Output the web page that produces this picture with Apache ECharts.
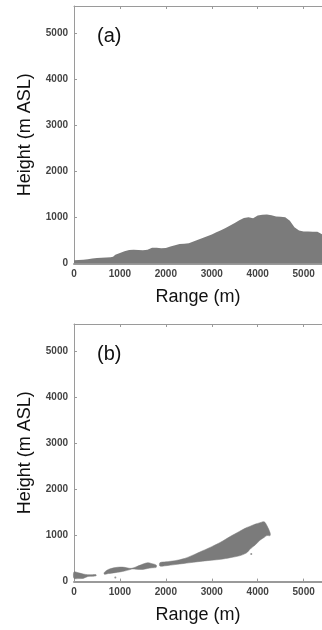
<!DOCTYPE html>
<html>
<head>
<meta charset="utf-8">
<script src="https://cdn.jsdelivr.net/npm/echarts@6/dist/echarts.min.js"></script>
<style>
html,body{margin:0;padding:0;background:#fff;}
#c{width:322px;height:630px;}
</style>
</head>
<body>
<div id="c"></div>
<script>
// Panel (a): terrain profile
const rangeA = [0,100,200,300,400,500,600,700,800,850,900,1000,1100,1200,1300,1400,1500,1600,1700,1800,1900,2000,2100,2200,2300,2400,2500,2600,2700,2800,2900,3000,3100,3200,3300,3400,3500,3600,3700,3800,3900,4000,4100,4200,4300,4400,4500,4600,4700,4800,4900,5000,5100,5200,5300,5400];
const heightA = [75,78,85,95,110,120,128,132,140,150,190,230,270,295,300,298,290,300,345,345,335,340,370,400,425,430,445,480,520,555,595,635,680,725,775,830,885,940,990,1005,985,1045,1060,1065,1050,1025,1020,1010,930,790,720,700,700,695,690,640];

// Panel (b): echo regions (lower and upper edges, '-' = gap)
const rangeB = [0,100,200,300,400,480,560,660,750,900,1000,1100,1200,1260,1350,1500,1600,1700,1790,1830,1870,2000,2200,2400,2600,2800,3000,3200,3400,3600,3750,3850,3950,4050,4140,4200,4270];
const lowerB = [70,65,70,110,115,125,'-',160,175,195,210,230,255,275,270,265,285,300,310,'-',340,345,370,395,420,445,465,485,520,560,620,720,800,900,960,1000,1000];
const upperB = [210,190,165,150,150,150,'-',200,265,305,315,310,290,290,320,380,410,390,360,'-',410,430,455,500,580,670,760,860,980,1090,1170,1210,1250,1280,1300,1220,1060];
const dotsB = [[900,90],[3860,600]];

const xTicks = [0,1000,2000,3000,4000,5000];
const yTicks = [0,1000,2000,3000,4000,5000];

// split panel (b) into contiguous segments
const segsB = [];
let cur = null;
rangeB.forEach((x,i)=>{
  if (lowerB[i]==='-' || upperB[i]==='-') { cur = null; return; }
  if (!cur) { cur = []; segsB.push(cur); }
  cur.push([x, lowerB[i], upperB[i]]);
});

const FONT = 'Liberation Sans, Arial, sans-serif';
const FILL = '#7b7b7b';
const AXC = '#9a9a9a';

function xAxisBottom(gi){
  return {
    type:'value', gridIndex:gi, min:0, max:5400, interval:1000,
    position:'bottom',
    name:'Range (m)', nameLocation:'middle', nameGap:24,
    nameTextStyle:{fontFamily:FONT, fontSize:18, color:'#111'},
    axisLine:{show:true, lineStyle:{color:AXC, width:2}},
    axisTick:{show:true, inside:true, length:3, lineStyle:{color:AXC}},
    axisLabel:{fontFamily:FONT, fontSize:10, fontWeight:'bold', color:'#444', margin:6,
      showMaxLabel:false, formatter:v=> xTicks.includes(v)? String(v):''},
    splitLine:{show:false}
  };
}
function xAxisTop(gi){
  return {
    type:'value', gridIndex:gi, min:0, max:5400, interval:1000, position:'top',
    axisLine:{show:true, lineStyle:{color:AXC, width:1}},
    axisTick:{show:true, inside:true, length:3, lineStyle:{color:AXC}},
    axisLabel:{show:false}, splitLine:{show:false}
  };
}
function yAxisLeft(gi){
  return {
    type:'value', gridIndex:gi, min:0, max:5600, interval:1000,
    name:'Height (m ASL)', nameLocation:'middle', nameGap:40,
    nameTextStyle:{fontFamily:FONT, fontSize:18, color:'#111'},
    axisLine:{show:true, lineStyle:{color:AXC, width:1}},
    axisTick:{show:true, inside:true, length:3, lineStyle:{color:AXC}},
    axisLabel:{fontFamily:FONT, fontSize:10, fontWeight:'bold', color:'#444', margin:6,
      showMaxLabel:false, formatter:v=> yTicks.includes(v)? String(v):''},
    splitLine:{show:false}
  };
}

const chart = echarts.init(document.getElementById('c'), null, {renderer:'canvas'});
chart.setOption({
  animation:false,
  backgroundColor:'#fff',
  title:[
    {text:'(a)', left:92, top:21, textStyle:{fontFamily:FONT, fontSize:20, fontWeight:'normal', color:'#111'}},
    {text:'(b)', left:92, top:339, textStyle:{fontFamily:FONT, fontSize:20, fontWeight:'normal', color:'#111'}}
  ],
  grid:[
    {left:74, top:6, width:248.4, height:257.6},
    {left:74, top:324, width:248.4, height:257.6}
  ],
  xAxis:[xAxisBottom(0), xAxisTop(0), xAxisBottom(1), xAxisTop(1)],
  yAxis:[yAxisLeft(0), yAxisLeft(1)],
  series:[
    {type:'line', xAxisIndex:0, yAxisIndex:0, symbol:'none',
     data: rangeA.map((x,i)=>[x,heightA[i]]),
     lineStyle:{width:0}, areaStyle:{color:FILL, opacity:1}},
    {type:'custom', xAxisIndex:2, yAxisIndex:1,
     data: segsB.map(s=>[s[0][0], s[0][1]]),
     encode:{x:0, y:1},
     renderItem:(params, api)=>{
       const seg = segsB[params.dataIndex];
       const pts = [];
       seg.forEach(p=>pts.push(api.coord([p[0], p[2]])));
       for (let k=seg.length-1; k>=0; k--) pts.push(api.coord([seg[k][0], seg[k][1]]));
       return {type:'polygon', shape:{points:pts, smooth:0.3}, style:{fill:FILL, stroke:FILL, lineWidth:0.5}};
     }},
    {type:'scatter', xAxisIndex:2, yAxisIndex:1, symbolSize:2, data:dotsB,
     itemStyle:{color:FILL}}
  ]
});
</script>
</body>
</html>
